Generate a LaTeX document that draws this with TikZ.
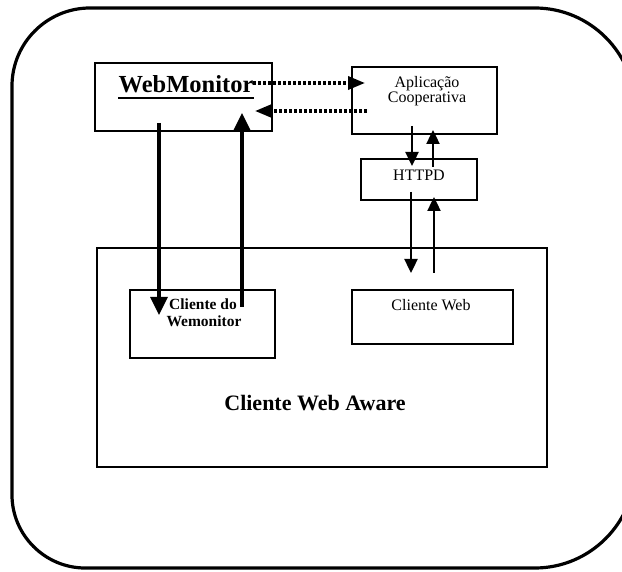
\documentclass[tikz,border=0pt]{standalone}
\usepackage{fontspec}
\setmainfont{Liberation Serif}
\usetikzlibrary{arrows.meta}
\begin{document}
\begin{tikzpicture}[x=1pt,y=-1pt,
  boxstyle/.style={draw, line width=2.2pt, inner sep=0pt},
  smalltext/.style={inner sep=0pt, anchor=base, font=\fontsize{16}{18}\selectfont},
  boldsmall/.style={inner sep=0pt, anchor=base, font=\fontsize{15.5}{18}\selectfont\bfseries},
  thickarrow/.style={line width=3.4pt, -{Triangle[length=18pt,width=17pt]}},
  thinarrow/.style={line width=2.4pt, -{Triangle[length=14pt,width=13pt]}},
  dotarrow/.style={line width=3.4pt, dash pattern=on 3pt off 2pt, -{Triangle[length=17pt,width=13pt]}}
]
\useasboundingbox (0,0) rectangle (622,572);
\fill[white] (0,0) rectangle (622,572);
\clip (0,0) rectangle (622,572);

% outer rounded frame
\draw[line width=3.2pt]
  (12,86) .. controls (12,43) and (47,8) .. (90,8)
  -- (535,8) .. controls (590,8) and (635,53) .. (635,108)
  -- (635,468) .. controls (635,523) and (590,568) .. (535,568)
  -- (85,568) .. controls (45,568) and (12,535) .. (12,495)
  -- cycle;

% boxes
\node[boxstyle, minimum width=177pt, minimum height=68pt] (wm) at (183.5,97) {};
\node[boxstyle, minimum width=145pt, minimum height=67pt] (app) at (424.5,100.5) {};
\node[boxstyle, minimum width=116pt, minimum height=41pt] (httpd) at (419,179.5) {};
\node[boxstyle, minimum width=450pt, minimum height=219pt] (aware) at (322,357.5) {};
\node[boxstyle, minimum width=145pt, minimum height=68pt] (cdw) at (202.5,324) {};
\node[boxstyle, minimum width=161pt, minimum height=54pt] (cw) at (432.5,317) {};

% texts
\node[inner sep=0pt, anchor=base, font=\fontsize{24.5}{27}\selectfont\bfseries] (wmt) at (186,93) {WebMonitor};
\draw[line width=2.2pt] ([yshift=-5pt]wmt.base west) -- ([yshift=-5pt]wmt.base east);
\node[smalltext] (appt1) at (427,88) {Aplicação};
\node[smalltext] (appt2) at (427,103) {Cooperativa};
\node[smalltext] (httpdt) at (419,181) {HTTPD};
\node[boldsmall] (cdwt1) at (203,310) {Cliente do};
\node[boldsmall] (cdwt2) at (204,327) {Wemonitor};
\node[smalltext] (cwt) at (431,311) {Cliente Web};
\node[inner sep=0pt, anchor=base, font=\fontsize{22}{25}\selectfont\bfseries] (awt) at (315,410) {Cliente Web Aware};

% arrow end points
\coordinate (a1s) at (159,123); \coordinate (a1e) at (159,315);
\coordinate (a2s) at (242,307); \coordinate (a2e) at (242,113);
\coordinate (a3s) at (253,83);  \coordinate (a3e) at (365,83);
\coordinate (a4s) at (367,111); \coordinate (a4e) at (255,111);
\coordinate (a5s) at (412,126); \coordinate (a5e) at (412,166);
\coordinate (a6s) at (433,167); \coordinate (a6e) at (433,130);
\coordinate (a7s) at (411,192); \coordinate (a7e) at (411,273);
\coordinate (a8s) at (434,273); \coordinate (a8e) at (434,197);

\draw[thickarrow] (a1s) -- (a1e);
\draw[thickarrow] (a2s) -- (a2e);
\draw[dotarrow] (a3s) -- (a3e);
\draw[dotarrow] (a4s) -- (a4e);
\draw[thinarrow] (a5s) -- (a5e);
\draw[thinarrow] (a6s) -- (a6e);
\draw[thinarrow] (a7s) -- (a7e);
\draw[thinarrow] (a8s) -- (a8e);
\end{tikzpicture}
\end{document}
